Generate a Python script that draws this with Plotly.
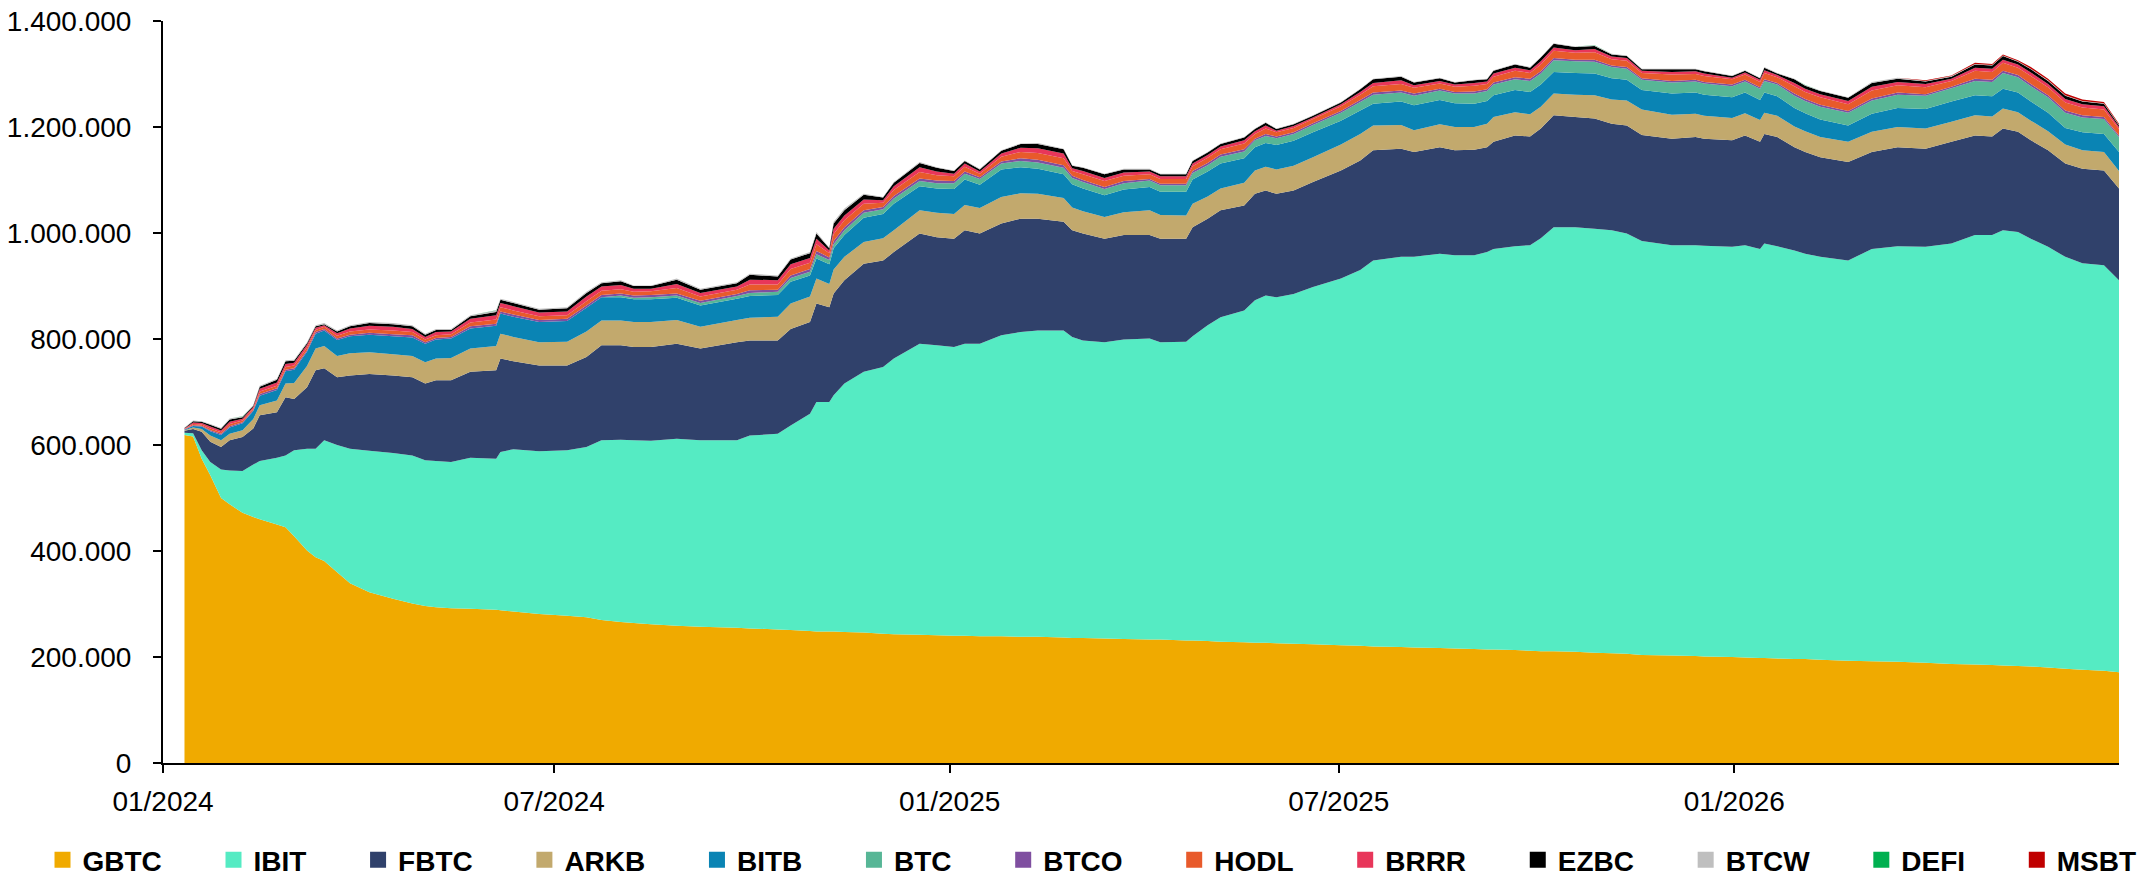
import plotly.graph_objects as go

# ---- data (holdings in thousand BTC) ----
dates = [
    "2024-01-11","2024-01-15","2024-01-19","2024-01-23","2024-01-28","2024-02-01","2024-02-07","2024-02-12","2024-02-15","2024-02-23",
    "2024-02-27","2024-03-02","2024-03-08","2024-03-12","2024-03-16","2024-03-22","2024-03-28","2024-04-06","2024-04-17","2024-04-26",
    "2024-05-02","2024-05-07","2024-05-14","2024-05-23","2024-06-04","2024-06-06","2024-06-12","2024-06-24","2024-07-07","2024-07-16",
    "2024-07-23","2024-08-01","2024-08-07","2024-08-15","2024-08-27","2024-09-07","2024-09-24","2024-09-30","2024-10-13","2024-10-19",
    "2024-10-28","2024-10-31","2024-11-06","2024-11-08","2024-11-13","2024-11-22","2024-12-01","2024-12-06","2024-12-18","2024-12-26",
    "2025-01-03","2025-01-08","2025-01-15","2025-01-25","2025-02-03","2025-02-11","2025-02-23","2025-02-27","2025-03-04","2025-03-14",
    "2025-03-23","2025-04-04","2025-04-09","2025-04-21","2025-04-24","2025-05-01","2025-05-07","2025-05-18","2025-05-23","2025-05-28",
    "2025-06-02","2025-06-10","2025-06-19","2025-07-02","2025-07-11","2025-07-17","2025-07-30","2025-08-05","2025-08-17","2025-08-24",
    "2025-09-02","2025-09-08","2025-09-11","2025-09-21","2025-09-28","2025-10-03","2025-10-09","2025-10-19","2025-10-28","2025-11-05",
    "2025-11-12","2025-11-19","2025-12-03","2025-12-14","2025-12-18","2025-12-31","2026-01-06","2026-01-13","2026-01-15","2026-01-21",
    "2026-01-29","2026-02-03","2026-02-10","2026-02-23","2026-03-06","2026-03-18","2026-03-31","2026-04-12","2026-04-23","2026-05-01",
    "2026-05-06","2026-05-13","2026-05-19","2026-05-27","2026-06-04","2026-06-12","2026-06-22","2026-06-29",
]

GBTC = [
    619,616,574,543,500,488,472,464,460,450,
    445,428,401,388,381,360,339,322,310,301,
    296,294,292,291,289,288,286,281,278,275,
    270,266,264,262,259,257,255,254,252,251,
    249,248,248,248,247,246,244,243,242,241,
    240,240,239,239,238,238,237,236,236,235,
    234,233,233,231,231,230,229,228,227,227,
    226,225,224,222,221,220,219,218,217,216,
    215,214,214,213,212,211,211,210,208,207,
    206,204,203,202,201,200,199,198,198,197,
    196,196,195,193,192,191,189,187,186,185,
    184,183,182,180,178,176,174,171,
]
IBIT = [
    4,6,16,25,54,64,79,99,110,126,
    135,162,192,205,228,240,254,267,275,279,
    275,276,276,285,285,299,306,307,312,321,
    339,344,345,346,353,352,354,364,369,386,
    410,433,433,446,469,492,503,520,549,547,
    545,551,552,568,575,578,579,568,561,559,
    565,568,561,564,574,596,612,626,646,655,
    653,660,674,692,709,728,736,737,744,742,
    743,750,756,762,765,779,800,801,800,798,
    793,781,774,775,775,774,778,772,782,778,
    771,765,760,755,778,784,785,793,810,811,
    821,819,807,794,777,767,765,740,
]
FBTC = [
    4,8,35,38,42,57,64,68,86,86,
    110,97,116,148,136,128,138,145,146,148,
    145,152,154,162,167,176,166,162,160,170,
    179,178,176,177,179,173,185,179,176,182,
    173,186,179,192,195,204,201,201,208,204,
    204,214,208,211,214,211,205,201,202,195,
    197,195,195,194,206,201,202,198,201,198,
    195,195,198,204,207,208,204,198,201,198,
    199,198,202,209,205,207,211,208,208,201,
    204,200,201,204,202,201,207,202,207,206,
    195,192,188,186,183,187,185,192,188,186,
    192,189,186,182,176,178,179,173,
]
ARKB = [
    1,3,5,12,13,12,13,18,19,22,
    26,30,40,41,42,40,42,41,40,40,
    40,41,42,44,46,47,46,44,45,48,
    47,47,47,47,45,41,42,43,45,48,
    48,47,44,45,44,41,42,41,44,46,
    47,48,48,50,48,47,45,43,42,41,
    43,47,45,44,44,42,41,43,44,45,
    46,47,47,49,50,47,45,41,43,44,
    43,44,47,44,42,41,41,42,44,46,
    47,48,45,44,43,42,42,41,40,40,
    39,39,38,38,38,38,38,38,38,38,
    38,37,37,36,36,35,35,33,
]
BITB = [
    1,3,5,8,10,12,13,15,18,20,
    23,25,27,28,29,30,32,33,34,35,
    35,36,37,38,38,38,38,38,39,45,
    44,44,43,43,42,40,40,41,41,41,
    40,38,37,40,41,46,46,50,45,46,
    47,48,44,52,49,47,45,44,43,41,
    43,44,44,45,46,47,47,46,44,45,
    46,47,47,45,44,41,44,47,46,45,
    44,43,41,42,42,42,41,41,41,40,
    39,37,40,40,40,39,39,38,38,37,
    35,34,33,31,34,36,37,38,38,38,
    37,37,36,35,31,34,34,36,
]
BTC = [
    0,0,0,0,0,0,0,0,0,0,
    0,0,0,0,0,0,0,0,0,0,
    0,0,0,0,0,0,0,0,0,0,
    0,3,3,4,4,5,5,6,6,7,
    7,8,8,8,9,9,9,10,10,10,
    11,11,11,11,12,12,12,12,12,12,
    12,12,12,12,12,12,13,13,13,13,
    13,13,14,15,16,17,17,18,18,18,
    19,19,20,20,21,21,22,22,22,21,
    21,19,21,21,21,21,21,21,22,22,
    23,23,24,24,25,25,25,25,27,27,
    30,29,29,29,29,28,28,28,
]
BTCO = [
    0.5,1.5,1.5,2,2,2.5,2,2,3,3,
    3,3,3,3,3,3,3,4,4,4,
    3,3,3,4,4,4,4,4,4,4,
    4,4,4,4,4,4,4,5,4,5,
    5,6,5,6,6,5,4,5,5,5,
    4,4,3,4,5,5,5,4,4,4,
    4,3,3,3,4,4,4,4,3,4,
    3,3,3,3,4,4,4,4,3,3,
    4,3,4,4,4,4,4,3,4,3,
    3,3,3,3,3,3,3,3,3,3,
    4,4,4,3,4,4,3,3,4,4,
    4,4,4,4,4,4,4,3,
]
HODL = [
    0.8,2,2,3,3,4,3,3,5,5,
    5,5,5,4,4,5,6,6,7,6,
    5,5,5,7,8,8,8,7,7,8,
    8,8,7,7,10,8,8,11,10,12,
    12,13,8,13,13,12,8,11,12,10,
    9,9,7,9,12,13,13,9,11,11,
    10,9,9,9,9,10,10,11,9,10,
    8,8,8,9,10,12,12,11,10,10,
    11,10,11,12,11,13,14,13,14,12,
    12,10,12,11,11,10,10,10,12,11,
    14,13,14,13,15,14,13,11,15,15,
    15,14,15,15,15,15,14,12,
]
BRRR = [
    1,3,3,4,3.5,4.5,3.5,3,5,6,
    6,5,5,4,3,5,6,7,7,6,
    5,6,5,7,8,8,8,7,7,9,
    8,8,6,5,8,7,6,9,8,9,
    9,10,5,10,9,8,5,7,9,7,
    5,6,4,6,8,9,9,5,6,6,
    6,5,5,5,5,5,5,6,5,6,
    3,4,3,4,5,6,7,5,5,4,
    5,5,6,6,5,6,6,5,6,5,
    5,4,5,5,5,3,4,4,5,4,
    6,6,6,6,7,6,6,4,6,6,
    6,6,7,6,7,6,6,4,
]
EZBC = [
    1,2.5,2.5,3,3,4,3,2,4,5,
    5,4,3,3,2,3,4,5,5,5,
    4,4,3,5,6,6,6,5,6,7,
    6,7,5,5,8,6,6,9,7,9,
    9,10,4,10,10,9,5,7,8,7,
    5,5,4,5,7,8,8,5,6,7,
    6,4,4,4,5,5,5,5,4,5,
    3,3,3,3,5,7,7,5,5,4,
    5,4,5,6,5,7,7,6,6,4,
    4,3,5,4,4,3,3,3,5,3,
    7,6,6,6,7,6,5,4,6,6,
    7,5,6,6,6,5,5,3,
]
BTCW = [
    0.5,1,1,1.5,1.5,2,1.5,1,2,2,
    2,2,2,2,2,2,2,2,2,2,
    2,2,2,2,3,2,2,2,2,2,
    2,2,1,1,2,2,2,2,2,2,
    2,3,1,3,3,2,1,1,2,1,
    1,1,1,1,1,2,1,1,1,1,
    1,1,1,1,1,1,1,1,1,1,
    1,1,1,1,1,1,1,1,1,1,
    1,1,1,1,1,1,1,1,1,1,
    1,1,1,1,1,1,1,1,1,1,
    1,1,1,1,2,2,1,1,1,1,
    1,1,1,1,1,1,1,1,
]
DEFI = [
    0.01,0.01,0.01,0.01,0.01,0.02,0.02,0.02,0.02,0.02,
    0.02,0.02,0.02,0.02,0.02,0.02,0.02,0.02,0.02,0.02,
    0.02,0.02,0.02,0.02,0.02,0.02,0.02,0.02,0.02,0.02,
    0.02,0.02,0.02,0.02,0.02,0.02,0.02,0.02,0.02,0.02,
    0.02,0.02,0.02,0.02,0.02,0.02,0.02,0.02,0.02,0.02,
    0.02,0.02,0.02,0.02,0.02,0.02,0.02,0.02,0.02,0.02,
    0.02,0.02,0.02,0.02,0.02,0.02,0.02,0.02,0.02,0.02,
    0.02,0.02,0.02,0.02,0.02,0.02,0.02,0.02,0.02,0.02,
    0.02,0.02,0.02,0.02,0.02,0.02,0.02,0.02,0.02,0.02,
    0.02,0.02,0.02,0.02,0.02,0.02,0.02,0.02,0.02,0.02,
    0.02,0.02,0.02,0.02,0.02,0.02,0.02,0.02,0.02,0.02,
    0.02,0.02,0.02,0.02,0.02,0.02,0.02,0.02,
]
MSBT = [
    0,0,0,0,0,0,0,0,0,0,
    0,0,0,0,0,0,0,0,0,0,
    0,0,0,0,0,0,0,0,0,0,
    0,0,0,0,0,0,0,0,0,0,
    0,0,0,0,0,0,0,0,0,0,
    0,0,0,0,0,0,0,0,0,0,
    0,0,0,0,0,0,0,0,0,0,
    0,0,0,0,0,0,0,0,0,0,
    0,0,0,0,0,0,0,0,0,0,
    0,0,0,0,0,0,0,0,0,0,
    0,0,0,0,0,0,1,1,2,2,
    2,2,3,3,3,3,2,2,
]

names = ["GBTC", "IBIT", "FBTC", "ARKB", "BITB", "BTC", "BTCO",
         "HODL", "BRRR", "EZBC", "BTCW", "DEFI", "MSBT"]
series = [GBTC, IBIT, FBTC, ARKB, BITB, BTC, BTCO,
          HODL, BRRR, EZBC, BTCW, DEFI, MSBT]
colors = ["#F0AA00", "#55EBC3", "#30416B", "#C2A96D", "#0A84B4", "#57B696", "#7F4FA0",
          "#E85A2B", "#E8365A", "#000000", "#BFBFBF", "#00B050", "#C00000"]

FONT = "Liberation Sans, Arial, sans-serif"
PAD = "\u00a0" * 6  # spacing after each legend label, as in the reference

fig = go.Figure()
for name, vals, col in zip(names, series, colors):
    fig.add_trace(go.Scatter(
        x=dates, y=[v * 1000 for v in vals], name=name,
        stackgroup="one", mode="none", fillcolor=col,
        showlegend=False, hoverinfo="x+y+name",
    ))
# legend entries (square swatches)
for i, (name, col) in enumerate(zip(names, colors)):
    label = name if i == len(names) - 1 else name + PAD
    fig.add_trace(go.Scatter(
        x=[None], y=[None], name=label, mode="markers",
        marker=dict(symbol="square", size=17, color=col),
        showlegend=True,
    ))

fig.update_layout(
    width=2146, height=877,
    margin=dict(l=163, r=27, t=21, b=114, autoexpand=False),
    paper_bgcolor="white", plot_bgcolor="white",
    separators=",.",
    font=dict(family=FONT, color="black"),
    showlegend=True,
    legend=dict(
        orientation="h", traceorder="normal",
        x=-0.0616, xanchor="left", y=-0.1307, yanchor="middle",
        font=dict(family=FONT, size=28, color="black", weight="bold"),
        itemsizing="trace", bgcolor="rgba(0,0,0,0)", borderwidth=0,
    ),
    xaxis=dict(
        type="date", range=["2024-01-01", "2026-06-29"],
        tick0="2024-01-01", dtick="M6", tickformat="%m/%Y",
        ticks="outside", ticklen=8, tickwidth=2, tickcolor="black",
        ticklabelstandoff=4,
        showline=True, linecolor="black", linewidth=2,
        showgrid=False, zeroline=False,
        tickfont=dict(family=FONT, size=28, color="black"),
    ),
    yaxis=dict(
        range=[0, 1400000], dtick=200000, tickformat=",d",
        ticks="outside", ticklen=8, tickwidth=2, tickcolor="black",
        ticklabelstandoff=16,
        showline=True, linecolor="black", linewidth=2,
        showgrid=False, zeroline=False,
        tickfont=dict(family=FONT, size=28, color="black"),
    ),
)

# remove the browser's default page margin so the 2146x877 figure fills the window exactly
fig.write_html("out.html", config={"displayModeBar": False},
               post_script="document.body.style.margin='0';")
